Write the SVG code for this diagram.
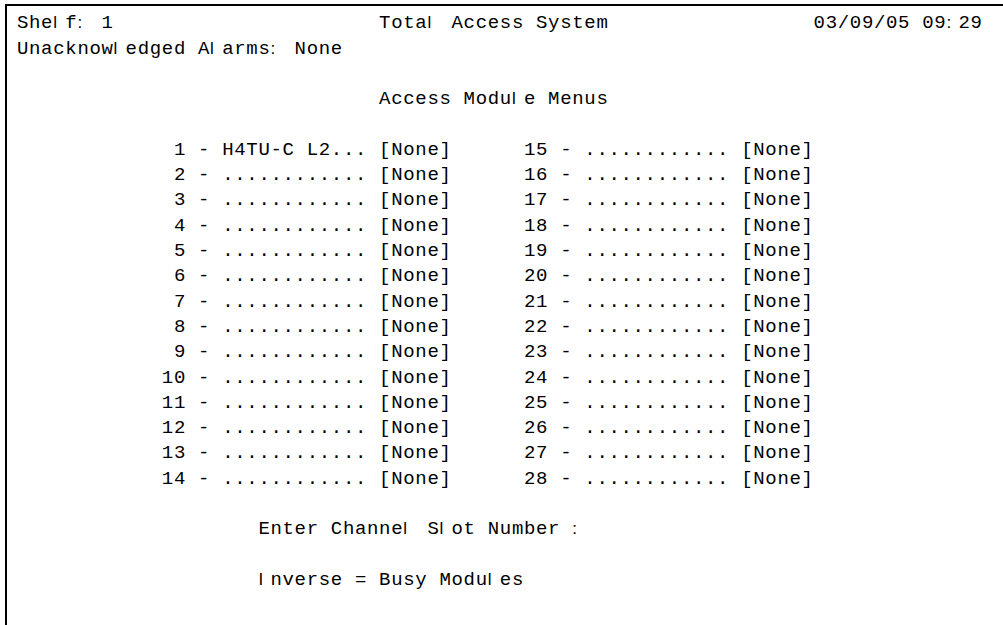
<svg xmlns="http://www.w3.org/2000/svg" width="1003" height="625" viewBox="0 0 1003 625">
  <style>
    text { font-family: "Liberation Mono", "DejaVu Sans Mono", monospace; font-size: 19px; fill: #000; }
    /* narrow glyphs (l, I, :) keep their proportional width, drawn at the left of their cell */
    .s { font-family: "Liberation Sans", Arial, sans-serif; font-size: 17px; }
    .frame { fill: none; stroke: #000; stroke-width: 2; }
  </style>
  <!-- terminal screen, 80 fixed cells per line; cell left edge x = 17 + 12.07*col, line pitch 25.3 -->
  <rect x="0" y="0" width="1003" height="625" fill="#fff"/>
  <path class="frame" d="M6,625 V5 H1003"/>

  <g id="status-bar">
    <text y="28.3"><tspan x="17 29.1 41.1">She</tspan><tspan class="s" x="53.2">l</tspan><tspan x="65.3">f</tspan><tspan class="s" x="77.4">:</tspan><tspan x="101.5">1</tspan></text>
    <text y="28.3"><tspan x="379.1 391.2 403.2 415.3">Tota</tspan><tspan class="s" x="427.4">l</tspan><tspan x="451.5 463.6 475.7 487.7 499.8 511.9">Access</tspan><tspan x="536 548.1 560.2 572.2 584.3 596.4">System</tspan></text>
    <text y="28.3"><tspan x="813.6 825.7 837.8 849.8 861.9 874 886 898.1">03/09/05</tspan><tspan x="922.3 934.3">09</tspan><tspan class="s" x="946.4">:</tspan><tspan x="958.5 970.5">29</tspan></text>
    <text y="53.6"><tspan x="17 29.1 41.1 53.2 65.3 77.4 89.4 101.5">Unacknow</tspan><tspan class="s" x="113.6">l</tspan><tspan x="125.6 137.7 149.8 161.8 173.9">edged</tspan><tspan x="198.1">A</tspan><tspan class="s" x="210.1">l</tspan><tspan x="222.2 234.3 246.3 258.4">arms</tspan><tspan class="s" x="270.5">:</tspan><tspan x="294.6 306.7 318.8 330.8">None</tspan></text>
  </g>

  <g id="menu-title">
    <text y="104.2"><tspan x="379.1 391.2 403.2 415.3 427.4 439.5">Access</tspan><tspan x="463.6 475.7 487.7 499.8">Modu</tspan><tspan class="s" x="511.9">l</tspan><tspan x="523.9">e</tspan><tspan x="548.1 560.2 572.2 584.3 596.4">Menus</tspan></text>
  </g>

  <g id="slots-1-14">
    <text y="154.8"><tspan x="173.9">1</tspan><tspan x="198.1">-</tspan><tspan x="222.2 234.3 246.3 258.4 270.5 282.5">H4TU-C</tspan><tspan x="306.7 318.8 330.8 342.9 355">L2...</tspan><tspan x="379.1 391.2 403.2 415.3 427.4 439.5">[None]</tspan></text>
    <text y="180.1"><tspan x="173.9">2</tspan><tspan x="198.1">-</tspan><tspan x="222.2 234.3 246.3 258.4 270.5 282.5 294.6 306.7 318.8 330.8 342.9 355">............</tspan><tspan x="379.1 391.2 403.2 415.3 427.4 439.5">[None]</tspan></text>
    <text y="205.4"><tspan x="173.9">3</tspan><tspan x="198.1">-</tspan><tspan x="222.2 234.3 246.3 258.4 270.5 282.5 294.6 306.7 318.8 330.8 342.9 355">............</tspan><tspan x="379.1 391.2 403.2 415.3 427.4 439.5">[None]</tspan></text>
    <text y="230.7"><tspan x="173.9">4</tspan><tspan x="198.1">-</tspan><tspan x="222.2 234.3 246.3 258.4 270.5 282.5 294.6 306.7 318.8 330.8 342.9 355">............</tspan><tspan x="379.1 391.2 403.2 415.3 427.4 439.5">[None]</tspan></text>
    <text y="256"><tspan x="173.9">5</tspan><tspan x="198.1">-</tspan><tspan x="222.2 234.3 246.3 258.4 270.5 282.5 294.6 306.7 318.8 330.8 342.9 355">............</tspan><tspan x="379.1 391.2 403.2 415.3 427.4 439.5">[None]</tspan></text>
    <text y="281.3"><tspan x="173.9">6</tspan><tspan x="198.1">-</tspan><tspan x="222.2 234.3 246.3 258.4 270.5 282.5 294.6 306.7 318.8 330.8 342.9 355">............</tspan><tspan x="379.1 391.2 403.2 415.3 427.4 439.5">[None]</tspan></text>
    <text y="306.6"><tspan x="173.9">7</tspan><tspan x="198.1">-</tspan><tspan x="222.2 234.3 246.3 258.4 270.5 282.5 294.6 306.7 318.8 330.8 342.9 355">............</tspan><tspan x="379.1 391.2 403.2 415.3 427.4 439.5">[None]</tspan></text>
    <text y="331.9"><tspan x="173.9">8</tspan><tspan x="198.1">-</tspan><tspan x="222.2 234.3 246.3 258.4 270.5 282.5 294.6 306.7 318.8 330.8 342.9 355">............</tspan><tspan x="379.1 391.2 403.2 415.3 427.4 439.5">[None]</tspan></text>
    <text y="357.2"><tspan x="173.9">9</tspan><tspan x="198.1">-</tspan><tspan x="222.2 234.3 246.3 258.4 270.5 282.5 294.6 306.7 318.8 330.8 342.9 355">............</tspan><tspan x="379.1 391.2 403.2 415.3 427.4 439.5">[None]</tspan></text>
    <text y="382.5"><tspan x="161.8 173.9">10</tspan><tspan x="198.1">-</tspan><tspan x="222.2 234.3 246.3 258.4 270.5 282.5 294.6 306.7 318.8 330.8 342.9 355">............</tspan><tspan x="379.1 391.2 403.2 415.3 427.4 439.5">[None]</tspan></text>
    <text y="407.8"><tspan x="161.8 173.9">11</tspan><tspan x="198.1">-</tspan><tspan x="222.2 234.3 246.3 258.4 270.5 282.5 294.6 306.7 318.8 330.8 342.9 355">............</tspan><tspan x="379.1 391.2 403.2 415.3 427.4 439.5">[None]</tspan></text>
    <text y="433.1"><tspan x="161.8 173.9">12</tspan><tspan x="198.1">-</tspan><tspan x="222.2 234.3 246.3 258.4 270.5 282.5 294.6 306.7 318.8 330.8 342.9 355">............</tspan><tspan x="379.1 391.2 403.2 415.3 427.4 439.5">[None]</tspan></text>
    <text y="458.4"><tspan x="161.8 173.9">13</tspan><tspan x="198.1">-</tspan><tspan x="222.2 234.3 246.3 258.4 270.5 282.5 294.6 306.7 318.8 330.8 342.9 355">............</tspan><tspan x="379.1 391.2 403.2 415.3 427.4 439.5">[None]</tspan></text>
    <text y="483.7"><tspan x="161.8 173.9">14</tspan><tspan x="198.1">-</tspan><tspan x="222.2 234.3 246.3 258.4 270.5 282.5 294.6 306.7 318.8 330.8 342.9 355">............</tspan><tspan x="379.1 391.2 403.2 415.3 427.4 439.5">[None]</tspan></text>
  </g>

  <g id="slots-15-28">
    <text y="154.8"><tspan x="523.9 536">15</tspan><tspan x="560.2">-</tspan><tspan x="584.3 596.4 608.4 620.5 632.6 644.6 656.7 668.8 680.9 692.9 705 717.1">............</tspan><tspan x="741.2 753.3 765.3 777.4 789.5 801.6">[None]</tspan></text>
    <text y="180.1"><tspan x="523.9 536">16</tspan><tspan x="560.2">-</tspan><tspan x="584.3 596.4 608.4 620.5 632.6 644.6 656.7 668.8 680.9 692.9 705 717.1">............</tspan><tspan x="741.2 753.3 765.3 777.4 789.5 801.6">[None]</tspan></text>
    <text y="205.4"><tspan x="523.9 536">17</tspan><tspan x="560.2">-</tspan><tspan x="584.3 596.4 608.4 620.5 632.6 644.6 656.7 668.8 680.9 692.9 705 717.1">............</tspan><tspan x="741.2 753.3 765.3 777.4 789.5 801.6">[None]</tspan></text>
    <text y="230.7"><tspan x="523.9 536">18</tspan><tspan x="560.2">-</tspan><tspan x="584.3 596.4 608.4 620.5 632.6 644.6 656.7 668.8 680.9 692.9 705 717.1">............</tspan><tspan x="741.2 753.3 765.3 777.4 789.5 801.6">[None]</tspan></text>
    <text y="256"><tspan x="523.9 536">19</tspan><tspan x="560.2">-</tspan><tspan x="584.3 596.4 608.4 620.5 632.6 644.6 656.7 668.8 680.9 692.9 705 717.1">............</tspan><tspan x="741.2 753.3 765.3 777.4 789.5 801.6">[None]</tspan></text>
    <text y="281.3"><tspan x="523.9 536">20</tspan><tspan x="560.2">-</tspan><tspan x="584.3 596.4 608.4 620.5 632.6 644.6 656.7 668.8 680.9 692.9 705 717.1">............</tspan><tspan x="741.2 753.3 765.3 777.4 789.5 801.6">[None]</tspan></text>
    <text y="306.6"><tspan x="523.9 536">21</tspan><tspan x="560.2">-</tspan><tspan x="584.3 596.4 608.4 620.5 632.6 644.6 656.7 668.8 680.9 692.9 705 717.1">............</tspan><tspan x="741.2 753.3 765.3 777.4 789.5 801.6">[None]</tspan></text>
    <text y="331.9"><tspan x="523.9 536">22</tspan><tspan x="560.2">-</tspan><tspan x="584.3 596.4 608.4 620.5 632.6 644.6 656.7 668.8 680.9 692.9 705 717.1">............</tspan><tspan x="741.2 753.3 765.3 777.4 789.5 801.6">[None]</tspan></text>
    <text y="357.2"><tspan x="523.9 536">23</tspan><tspan x="560.2">-</tspan><tspan x="584.3 596.4 608.4 620.5 632.6 644.6 656.7 668.8 680.9 692.9 705 717.1">............</tspan><tspan x="741.2 753.3 765.3 777.4 789.5 801.6">[None]</tspan></text>
    <text y="382.5"><tspan x="523.9 536">24</tspan><tspan x="560.2">-</tspan><tspan x="584.3 596.4 608.4 620.5 632.6 644.6 656.7 668.8 680.9 692.9 705 717.1">............</tspan><tspan x="741.2 753.3 765.3 777.4 789.5 801.6">[None]</tspan></text>
    <text y="407.8"><tspan x="523.9 536">25</tspan><tspan x="560.2">-</tspan><tspan x="584.3 596.4 608.4 620.5 632.6 644.6 656.7 668.8 680.9 692.9 705 717.1">............</tspan><tspan x="741.2 753.3 765.3 777.4 789.5 801.6">[None]</tspan></text>
    <text y="433.1"><tspan x="523.9 536">26</tspan><tspan x="560.2">-</tspan><tspan x="584.3 596.4 608.4 620.5 632.6 644.6 656.7 668.8 680.9 692.9 705 717.1">............</tspan><tspan x="741.2 753.3 765.3 777.4 789.5 801.6">[None]</tspan></text>
    <text y="458.4"><tspan x="523.9 536">27</tspan><tspan x="560.2">-</tspan><tspan x="584.3 596.4 608.4 620.5 632.6 644.6 656.7 668.8 680.9 692.9 705 717.1">............</tspan><tspan x="741.2 753.3 765.3 777.4 789.5 801.6">[None]</tspan></text>
    <text y="483.7"><tspan x="523.9 536">28</tspan><tspan x="560.2">-</tspan><tspan x="584.3 596.4 608.4 620.5 632.6 644.6 656.7 668.8 680.9 692.9 705 717.1">............</tspan><tspan x="741.2 753.3 765.3 777.4 789.5 801.6">[None]</tspan></text>
  </g>

  <g id="prompt">
    <text y="534.3"><tspan x="258.4 270.5 282.5 294.6 306.7">Enter</tspan><tspan x="330.8 342.9 355 367 379.1 391.2">Channe</tspan><tspan class="s" x="403.2">l</tspan><tspan x="427.4">S</tspan><tspan class="s" x="439.5">l</tspan><tspan x="451.5 463.6">ot</tspan><tspan x="487.7 499.8 511.9 523.9 536 548.1">Number</tspan><tspan class="s" x="572.2">:</tspan></text>
    <text y="584.9"><tspan class="s" x="258.4">I</tspan><tspan x="270.5 282.5 294.6 306.7 318.8 330.8">nverse</tspan><tspan x="355">=</tspan><tspan x="379.1 391.2 403.2 415.3">Busy</tspan><tspan x="439.5 451.5 463.6 475.7">Modu</tspan><tspan class="s" x="487.7">l</tspan><tspan x="499.8 511.9">es</tspan></text>
  </g>
</svg>
